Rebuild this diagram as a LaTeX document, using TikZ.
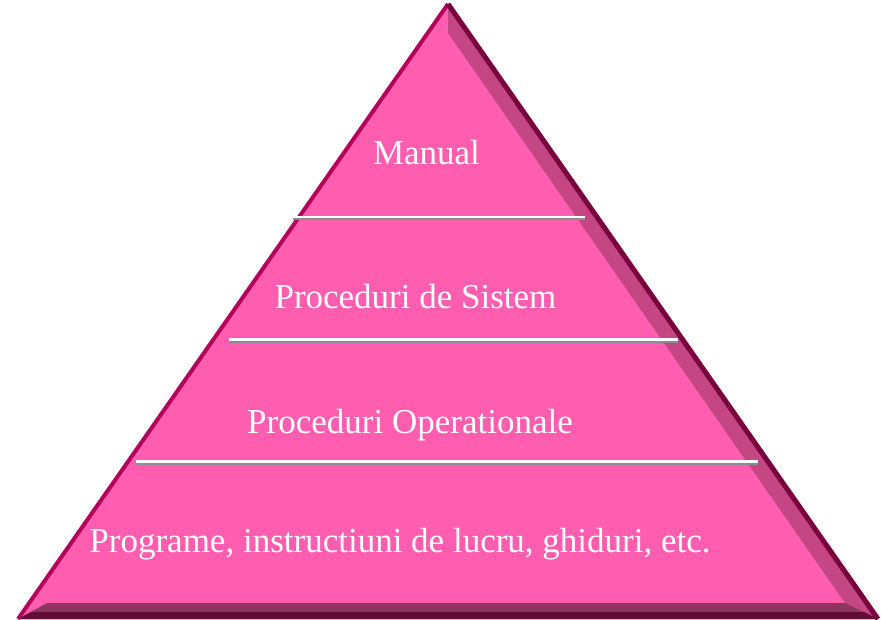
\documentclass[tikz,border=0pt]{standalone}
\usepackage{fontspec}
\setmainfont{Liberation Serif}
\definecolor{facepink}{HTML}{FF5EB0}
\definecolor{bevelpink}{HTML}{C44682}
\definecolor{bevelplum}{HTML}{8C375F}
\definecolor{beveldark}{HTML}{640A37}
\definecolor{leftedge}{HTML}{B4005A}
\definecolor{rightedge}{HTML}{78003C}
\tikzset{
  layer/.style={text=white, font=\fontsize{35}{40}\selectfont, anchor=base, inner sep=0pt},
  divider/.style={white, line width=2.5pt},
  dividershadow/.style={black!45, line width=2pt},
}
\begin{document}
\begin{tikzpicture}[x=1pt,y=-1pt]
                    \useasboundingbox (0,0) rectangle (881,620);
                    \coordinate (apex) at (448,4);
                    \coordinate (bl) at (18,619);
                    \coordinate (br) at (878,619);
                    \coordinate (ia) at (448,33);
                    \coordinate (ibl) at (47,603);
                    \coordinate (ibr) at (845,603);
                    \fill[facepink] (apex) -- (bl) -- (br) -- cycle;
                    \fill[bevelpink] (apex) -- (br) -- (ibr) -- (ia) -- cycle;
                    \fill[bevelplum] (bl) -- (br) -- (ibr) -- (ibl) -- cycle;
                    \fill[beveldark] (bl) -- (br) -- (864,612) -- (31,612) -- cycle;
                    \draw[leftedge, line width=4pt] (apex) -- (bl);
                    \draw[rightedge, line width=5pt] (apex) -- (br);
                    \draw[dividershadow] (293,219.5) -- (585,219.5);
                    \draw[divider] (293,217) -- (585,217);
                    \draw[dividershadow] (229,342) -- (678,342);
                    \draw[divider] (229,339.5) -- (678,339.5);
                    \draw[dividershadow] (136,464) -- (758,464);
                    \draw[divider] (136,461.5) -- (758,461.5);
                    \node[layer] (manual) at (426.5,165) {Manual};
                    \node[layer] (sistem) at (415.5,309) {Proceduri de Sistem};
                    \node[layer] (operational) at (410,433) {Proceduri Operationale};
                    \node[layer] (programe) at (400,552) {Programe, instructiuni de lucru, ghiduri, etc.};
\end{tikzpicture}
\end{document}
